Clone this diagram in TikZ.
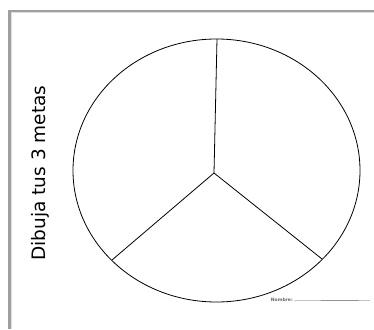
\documentclass[tikz,border=0pt]{standalone}
\usepackage{fontspec}
\setmainfont{DejaVu Sans}
\usepackage{tikz}
\usetikzlibrary{calc}

\begin{document}
\begin{tikzpicture}[x=1pt, y=-1pt]
        % --- 1. Parameters ---
        \def\cx{216.5}
        \def\cy{170.5}
        \def\rx{143.5}
        \def\ry{131.5}

        % --- 2. Page and shadow edge ---
        \useasboundingbox (0,0) rectangle (374,329);
        \fill[white] (0,0) rectangle (374,329);
        \fill[gray!75] (8,10) rectangle (374,12.5);
        \fill[gray!75] (8,10) rectangle (10.5,329);
        \fill[gray!25] (10.5,12.5) rectangle (374,13.5);
        \fill[gray!25] (10.5,12.5) rectangle (11.5,329);

        % --- 3. Circle cut in three ---
        \coordinate (Hub) at (214,173);
        \coordinate (TopEnd) at (217,39);
        \coordinate (LeftEnd) at (112,260);
        \coordinate (RightEnd) at (322,259);
        \draw[line width=0.8pt] (\cx,\cy) ellipse ({\rx} and {\ry});
        \draw[line width=0.8pt] (Hub) -- (TopEnd);
        \draw[line width=0.8pt] (Hub) -- (LeftEnd);
        \draw[line width=0.8pt] (Hub) -- (RightEnd);

        % --- 4. Labels ---
        \node[rotate=90, font=\fontsize{18.5}{22}\selectfont] (title) at (40,173) {Dibuja tus 3 metas};
        \node[font=\fontsize{4.5}{5}\selectfont\bfseries, text=gray!80!black, anchor=east, inner sep=0pt] (name) at (293,300) {Nombre:};
        \coordinate (LineEnd) at (370,300.5);
        \draw[gray!70!black, line width=0.4pt] ($(name.east)+(1.5,0.8)$) -- (LineEnd);
\end{tikzpicture}
\end{document}
